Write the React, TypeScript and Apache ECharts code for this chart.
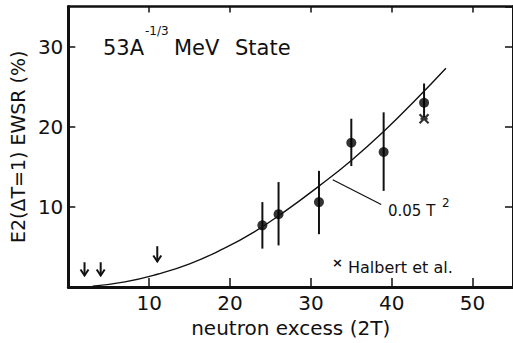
import React, { useEffect, useRef } from "react";
import * as echarts from "echarts";

// measured points (neutron excess 2T, EWSR %)
const pointX = [24, 26, 31, 35, 39, 44];
const pointY = [7.7, 9.1, 10.6, 18.0, 16.85, 23.0];
const errLow = [4.8, 5.2, 6.6, 15.1, 12.0, 21.2];
const errHigh = [10.6, 13.1, 14.5, 21.0, 21.8, 25.4];

// upper limits (arrows): x, top, bottom
const limitX = [2, 4, 11];
const limitTop = [3.1, 3.1, 5.1];
const limitBottom = [1.45, 1.45, 3.2];

// Halbert et al.
const halbertX = [44];
const halbertY = [21.0];

// curve 0.05 T^2
const curveX = [3, 7, 11, 15, 19, 23, 27, 31, 35, 39, 43, 46.7];
const curveY = [0.12, 0.65, 1.6, 2.9, 4.7, 6.9, 9.6, 12.6, 15.8, 19.4, 23.4, 27.3];

// leader line for the curve label
const leaderStart = [32.7, 13.4];
const leaderEnd = [38.7, 10.3];

const xTicks = [0, 55, 10];
const yTicks = [0, 35, 10];

const FONT = "DejaVu Sans";
const INK = "#111";

function txt(left: number, top: number, text: string, size: number, weight = "normal") {
  return {
    type: "text",
    left,
    top,
    style: { text, fontSize: size, fontFamily: FONT, fontWeight: weight, fill: INK },
  };
}

export default function App() {
  const ref = useRef<HTMLDivElement>(null);
  useEffect(() => {
    if (!ref.current) return;
    const chart = echarts.init(ref.current, null, { renderer: "svg" });
    const axisCommon = {
      type: "value" as const,
      min: xTicks[0],
      max: xTicks[1],
      interval: xTicks[2],
      splitLine: { show: false },
    };
    const yCommon = {
      type: "value" as const,
      min: yTicks[0],
      max: yTicks[1],
      interval: yTicks[2],
      splitLine: { show: false },
    };
    chart.setOption({
      animation: false,
      backgroundColor: "#fff",
      grid: { left: 63.5, right: -3, top: 6.5, bottom: 49.5, containLabel: false },
      xAxis: [
        {
          ...axisCommon,
          position: "bottom",
          axisLine: { show: true, onZero: false, lineStyle: { color: INK, width: 3 } },
          axisTick: { show: true, inside: true, length: 9, lineStyle: { color: INK, width: 1.5 } },
          axisLabel: {
            show: true,
            margin: 6,
            color: INK,
            fontFamily: FONT,
            fontSize: 20,
            showMinLabel: false,
            showMaxLabel: false,
          },
          name: "neutron excess (2T)",
          nameLocation: "middle",
          nameGap: 19,
          nameTextStyle: { color: INK, fontFamily: FONT, fontSize: 20 },
        },
        {
          ...axisCommon,
          position: "top",
          axisLine: { show: true, onZero: false, lineStyle: { color: INK, width: 2.5 } },
          axisTick: { show: true, inside: true, length: 6, lineStyle: { color: INK, width: 1.5 } },
          axisLabel: { show: false },
        },
      ],
      yAxis: [
        {
          ...yCommon,
          position: "left",
          axisLine: { show: true, onZero: false, lineStyle: { color: INK, width: 3 } },
          axisTick: { show: true, inside: true, length: 7, lineStyle: { color: INK, width: 1.5 } },
          axisLabel: {
            show: true,
            margin: 5,
            color: INK,
            fontFamily: FONT,
            fontSize: 20,
            showMinLabel: false,
            showMaxLabel: false,
          },
          name: "E2(ΔT=1) EWSR (%)",
          nameLocation: "middle",
          nameRotate: 90,
          nameGap: 32,
          nameTextStyle: { color: INK, fontFamily: FONT, fontSize: 19 },
        },
        {
          ...yCommon,
          position: "right",
          axisLine: { show: true, onZero: false, lineStyle: { color: INK, width: 3 } },
          axisTick: { show: true, inside: true, length: 8, lineStyle: { color: INK, width: 1.5 } },
          axisLabel: { show: false },
        },
      ],
      series: [
        {
          type: "line",
          xAxisIndex: 0,
          yAxisIndex: 0,
          smooth: true,
          symbol: "none",
          data: curveX.map((x, i) => [x, curveY[i]]),
          lineStyle: { color: INK, width: 1.4 },
          silent: true,
          markLine: {
            silent: true,
            symbol: ["none", "none"],
            label: { show: false },
            lineStyle: { color: INK, width: 1.2, type: "solid" },
            data: [[{ coord: leaderStart }, { coord: leaderEnd }]],
          },
        },
        {
          type: "custom",
          xAxisIndex: 0,
          yAxisIndex: 0,
          silent: true,
          data: pointX.map((x, i) => [x, errLow[i], errHigh[i]]),
          renderItem: (params: any, api: any) => {
            const x = api.value(0);
            const p1 = api.coord([x, api.value(1)]);
            const p2 = api.coord([x, api.value(2)]);
            return {
              type: "line",
              shape: { x1: p1[0], y1: p1[1], x2: p2[0], y2: p2[1] },
              style: { stroke: INK, lineWidth: 2 },
            };
          },
        },
        {
          type: "custom",
          xAxisIndex: 0,
          yAxisIndex: 0,
          silent: true,
          data: limitX.map((x, i) => [x, limitBottom[i], limitTop[i]]),
          renderItem: (params: any, api: any) => {
            const x = api.value(0);
            const pb = api.coord([x, api.value(1)]);
            const pt = api.coord([x, api.value(2)]);
            return {
              type: "group",
              children: [
                {
                  type: "line",
                  shape: { x1: pt[0], y1: pt[1], x2: pb[0], y2: pb[1] },
                  style: { stroke: INK, lineWidth: 2 },
                },
                {
                  type: "polyline",
                  shape: {
                    points: [
                      [pb[0] - 4, pb[1] - 6],
                      [pb[0], pb[1]],
                      [pb[0] + 4, pb[1] - 6],
                    ],
                  },
                  style: { stroke: INK, lineWidth: 2, fill: "none" },
                },
              ],
            };
          },
        },
        {
          type: "scatter",
          xAxisIndex: 0,
          yAxisIndex: 0,
          silent: true,
          symbol: "circle",
          symbolSize: 10,
          itemStyle: { color: "#000" },
          data: pointX.map((x, i) => [x, pointY[i]]),
        },
        {
          type: "scatter",
          xAxisIndex: 0,
          yAxisIndex: 0,
          silent: true,
          symbol: "path://M0,0 L10,10 M10,0 L0,10 M1,5 L9,5",
          symbolSize: 9,
          itemStyle: { color: "none", borderColor: "#000", borderWidth: 2.2 },
          data: halbertX.map((x, i) => [x, halbertY[i]]),
        },
      ],
      graphic: [
        txt(103, 37, "53A", 21),
        txt(145, 25, "-1/3", 12),
        txt(174, 37, "MeV", 21),
        txt(235, 37, "State", 21),
        txt(388, 203, "0.05 T", 15),
        txt(442, 197, "2", 12),
        txt(332, 256, "×", 13, "bold"),
        txt(348, 259, "Halbert et al.", 16),
      ],
    });
    return () => chart.dispose();
  }, []);
  return <div ref={ref} style={{ width: 513, height: 343, position: "absolute", left: 0, top: 0 }} />;
}
